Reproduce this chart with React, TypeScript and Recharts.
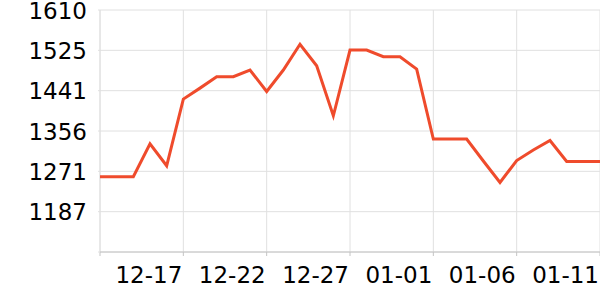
import React from "react";
import { LineChart, Line, XAxis, YAxis, CartesianGrid } from "recharts";

const dates = [
  "12-12", "12-13", "12-14", "12-15", "12-16", "12-17", "12-18", "12-19", "12-20", "12-21",
  "12-22", "12-23", "12-24", "12-25", "12-26", "12-27", "12-28", "12-29", "12-30", "12-31",
  "01-01", "01-02", "01-03", "01-04", "01-05", "01-06", "01-07", "01-08", "01-09", "01-10",
  "01-11",
];

const values = [
  1260, 1260, 1260, 1329, 1283, 1423, 1446, 1470, 1470, 1484,
  1439, 1484, 1538, 1493, 1388, 1526, 1526, 1512, 1512, 1486,
  1339, 1339, 1339, 1293, 1248, 1294, 1316, 1336, 1292, 1292,
  1292,
];

const Y_MIN = 1102;
const Y_MAX = 1610;
const yTicks = [1102, 1186.67, 1271.33, 1356, 1440.67, 1525.33, 1610];

const data = dates.map((d, i) => ({ date: d, value: values[i] }));

const FONT = "'DejaVu Sans', sans-serif";

const XTick = (props: any) => {
  const { x, y, payload } = props;
  if (payload.index === 0) return null;
  return (
    <text x={x - 1} y={y} dy="0.71em" textAnchor="end" fontSize={23} fill="#000" fontFamily={FONT}>
      {payload.value}
    </text>
  );
};

const YTick = (props: any) => {
  const { x, y, payload } = props;
  if (Math.round(payload.value) === Y_MIN) return null;
  return (
    <text x={x} y={y} dy="0.38em" textAnchor="end" fontSize={23} fill="#000" fontFamily={FONT}>
      {Math.round(payload.value)}
    </text>
  );
};

export default function App() {
  return (
    <div style={{ position: "absolute", left: 0, top: 0, width: 600, height: 300, background: "#fff", fontFamily: FONT }}>
      <LineChart width={600} height={300} data={data} margin={{ top: 10, right: 0, bottom: 0, left: 0 }}>
        <CartesianGrid stroke="#e0e0e0" strokeWidth={1} />
        <XAxis
          dataKey="date"
          interval={4}
          height={48}
          stroke="#c4c4c4"
          tickSize={4}
          tickMargin={11}
          tick={<XTick />}
        />
        <YAxis
          type="number"
          domain={[Y_MIN, Y_MAX]}
          ticks={yTicks}
          width={100}
          axisLine={false}
          tickLine={{ stroke: "#e0e0e0" }}
          tickSize={2}
          tickMargin={11}
          tick={<YTick />}
        />
        <Line
          type="linear"
          dataKey="value"
          stroke="#ef4b2c"
          strokeWidth={3}
          dot={false}
          isAnimationActive={false}
        />
      </LineChart>
    </div>
  );
}
